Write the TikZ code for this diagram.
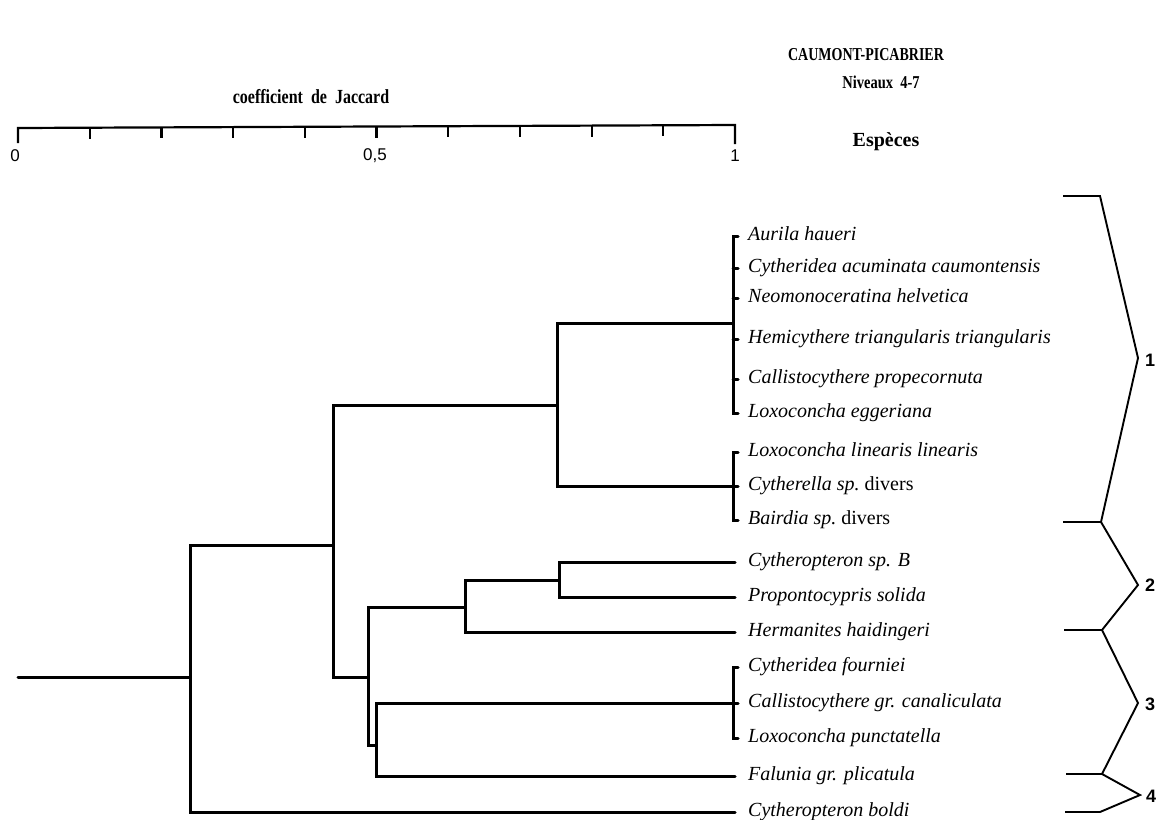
\documentclass[tikz,border=0pt]{standalone}
\usepackage{graphicx}
\usepackage{fontspec}
\setmainfont{Liberation Serif}
\setsansfont{Liberation Sans}
\begin{document}
\begin{tikzpicture}[x=1pt,y=-1pt,
  dend/.style={line width=3pt,line cap=round,line join=miter},
  brk/.style={line width=1.9pt,line join=miter},
  axisline/.style={line width=2.2pt},
  sp/.style={anchor=mid west,inner sep=0pt,yshift=-2pt,font=\fontsize{20}{23}\selectfont\itshape},
  grp/.style={anchor=west,inner sep=0pt,font=\fontsize{18}{20}\selectfont\sffamily\bfseries},
  ttl/.style={inner sep=0pt,font=\fontsize{14}{17}\selectfont\bfseries},
  axnum/.style={inner sep=0pt,font=\fontsize{17}{19}\selectfont\sffamily}]
\useasboundingbox (0,0) rectangle (1164,819);

% titles
\node[ttl] (title) at (866,55) {\scalebox{1}[1.3]{CAUMONT-PICABRIER}};
\node[ttl,font=\fontsize{14.5}{17}\selectfont\bfseries] (niv) at (881,82) {\scalebox{1}[1.25]{Niveaux\ \ 4-7}};
\node[ttl,font=\fontsize{16}{18}\selectfont\bfseries] (coef) at (311,97) {\scalebox{1}[1.25]{coefficient\ \ de\ \ Jaccard}};
\node[ttl,font=\fontsize{20}{22}\selectfont\bfseries] (esp) at (886,142) {Espèces};

% axis
\coordinate (ax0) at (18,128);
\coordinate (ax1) at (735,125);
\draw[axisline] (18,143) -- (ax0) -- (ax1) -- (735,144);
\foreach \k in {1,...,9}{
  \draw[axisline] ({18+\k*71.7},{128-0.3*\k}) -- ++(0,11);
}
\node[axnum] (n0) at (15,156) {0};
\node[axnum] (n05) at (375,156) {0,5};
\node[axnum] (n1) at (735,156) {1};

% leaf labels
\node[sp] (s1)  at (748,236) {Aurila haueri};
\node[sp] (s2)  at (748,268) {Cytheridea acuminata caumontensis};
\node[sp] (s3)  at (748,298) {Neomonoceratina helvetica};
\node[sp] (s4)  at (748,339) {Hemicythere triangularis triangularis};
\node[sp] (s5)  at (748,379) {Callistocythere propecornuta};
\node[sp] (s6)  at (748,413) {Loxoconcha eggeriana};
\node[sp] (s7)  at (748,452) {Loxoconcha linearis linearis};
\node[sp] (s8)  at (748,486) {Cytherella sp.\ \upshape divers};
\node[sp] (s9)  at (748,520) {Bairdia sp.\ \upshape divers};
\node[sp] (s10) at (748,562) {Cytheropteron sp. B};
\node[sp] (s11) at (748,597) {Propontocypris solida};
\node[sp] (s12) at (748,632) {Hermanites haidingeri};
\node[sp] (s13) at (748,667) {Cytheridea fourniei};
\node[sp] (s14) at (748,703) {Callistocythere gr. canaliculata};
\node[sp] (s15) at (748,738) {Loxoconcha punctatella};
\node[sp] (s16) at (748,776) {Falunia gr. plicatula};
\node[sp] (s17) at (748,812) {Cytheropteron boldi};

% leaf ends
\foreach \i/\y in {1/236,2/268,3/298,4/339,5/379,6/413,7/452,8/486,9/520,13/667,14/703,15/738}{
  \coordinate (e\i) at (738,\y);
}
\foreach \i/\y in {10/562,11/597,12/632,16/776,17/812}{
  \coordinate (e\i) at (735,\y);
}

% internal nodes
\coordinate (gA) at (733,323);
\coordinate (gB) at (733,486);
\coordinate (gD) at (733,703);
\coordinate (nAB) at (557,405);
\coordinate (nC) at (559,580);
\coordinate (nC12) at (465,607);
\coordinate (nD16) at (376,745);
\coordinate (nCD) at (368,677);
\coordinate (nAll) at (333,545);
\coordinate (root) at (190,677);
\coordinate (rootend) at (18,677);

% groups with brackets
\draw[dend] (e1) -| (gA);
\draw[dend] (e6) -| (gA);
\foreach \i in {2,3,4,5}{ \draw[dend] (e\i) -- ++(-5,0); }
\draw[dend] (e7) -| (gB);
\draw[dend] (e9) -| (gB);
\draw[dend] (e8) -- ++(-5,0);
\draw[dend] (e13) -| (gD);
\draw[dend] (e15) -| (gD);
\draw[dend] (e14) -- ++(-5,0);

% dendrogram links
\draw[dend] (nAB) |- (gA);
\draw[dend] (nAB) |- (gB);
\draw[dend] (nC) |- (e10);
\draw[dend] (nC) |- (e11);
\draw[dend] (nC12) |- (nC);
\draw[dend] (nC12) |- (e12);
\draw[dend] (nD16) |- (gD);
\draw[dend] (nD16) |- (e16);
\draw[dend] (nCD) |- (nC12);
\draw[dend] (nCD) |- (nD16);
\draw[dend] (nAll) |- (nAB);
\draw[dend] (nAll) |- (nCD);
\draw[dend] (root) |- (nAll);
\draw[dend] (root) |- (e17);
\draw[dend] (rootend) -- (root);

% right-hand group brackets
\coordinate (b0) at (1063,196);
\coordinate (b1) at (1100,196);
\coordinate (v1) at (1138,358);
\coordinate (j1) at (1101,522);
\coordinate (v2) at (1138,585);
\coordinate (j2) at (1102,630);
\coordinate (v3) at (1138,703);
\coordinate (j3) at (1102,774);
\coordinate (v4) at (1140,795);
\coordinate (j4) at (1100,812);
\draw[brk] (b0) -- (b1) -- (v1) -- (j1) -- (v2) -- (j2) -- (v3) -- (j3) -- (v4) -- (j4) -- (1065,812);
\draw[brk] (j1) -- (1063,522);
\draw[brk] (j2) -- (1064,630);
\draw[brk] (j3) -- (1066,774);
\node[grp] (g1) at (1145,360) {1};
\node[grp] (g2) at (1145,585) {2};
\node[grp] (g3) at (1145,704) {3};
\node[grp] (g4) at (1146,796) {4};
\end{tikzpicture}
\end{document}
